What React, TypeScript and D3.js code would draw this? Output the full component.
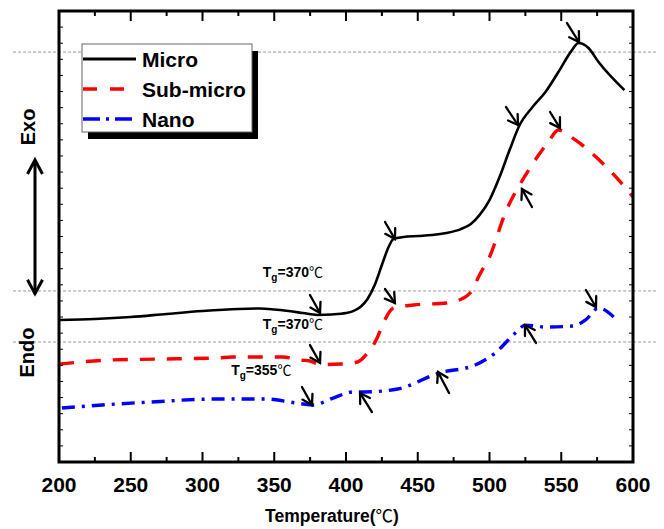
import React from "react";
import * as d3 from "d3";

// DSC curves (heat flow in arbitrary units)
const microT = [200, 225, 250, 275, 300, 325, 340, 350, 360, 370, 380, 390, 400, 405, 410, 415, 420, 425, 430, 433, 440, 450, 460, 470, 480, 487, 493, 500, 507, 514, 521, 530, 539, 548, 557, 562, 569, 576, 594];
const microV = [8.82, 8.88, 9.0, 9.19, 9.37, 9.5, 9.53, 9.47, 9.37, 9.25, 9.13, 9.16, 9.25, 9.37, 9.62, 10.12, 10.99, 12.23, 13.41, 13.84, 13.97, 14.03, 14.09, 14.22, 14.46, 14.78, 15.33, 16.26, 17.69, 19.37, 20.92, 22.04, 22.97, 24.21, 25.51, 26.01, 25.7, 24.83, 23.09];

const subT = [200, 235, 270, 310, 321, 356, 368, 375, 382, 396, 408, 415, 422, 424, 433, 447, 470, 479, 488, 493, 500, 511, 526, 541, 548, 558, 575, 596, 600];
const subV = [6.08, 6.33, 6.39, 6.46, 6.52, 6.52, 6.33, 6.27, 6.05, 6.08, 6.21, 6.77, 7.76, 8.19, 9.56, 9.75, 9.87, 10.06, 10.68, 11.61, 12.73, 15.46, 17.94, 19.87, 20.61, 20.11, 18.87, 16.89, 16.45];

const nanoT = [202, 230, 263, 310, 345, 361, 370, 377, 391, 405, 413, 436, 465, 490, 504, 518, 525, 539, 558, 567, 576, 588];
const nanoV = [3.35, 3.54, 3.72, 3.91, 3.91, 3.72, 3.6, 3.54, 3.97, 4.35, 4.35, 4.53, 5.53, 6.02, 6.77, 8.01, 8.5, 8.38, 8.44, 8.82, 9.56, 8.88];

const seriesNames = ["Micro", "Sub-micro", "Nano"];
const seriesColors = ["#000000", "#ff0000", "#0000ff"];
const seriesDash = ["none", "15 12", "13 7 3 7"];

const xTicks = d3.range(200, 601, 50);
const xMinorTicks = d3.range(225, 600, 50);
const yTicks = d3.range(1, 28);

// arrow annotations: [temperature, value] of tail and head
const arrowFrom = [[554, 27.25], [511.5, 22.04], [542.2, 21.73], [529.6, 15.83], [427.2, 14.9], [374.9, 10.37], [427.2, 10.74], [374.9, 7.26], [369.3, 4.66], [418.1, 3.1], [471.8, 4.28], [532.4, 7.39], [567.2, 10.68]];
const arrowTo = [[562.4, 26.07], [519.9, 20.92], [549.1, 20.73], [522.6, 16.95], [434.1, 13.84], [381.9, 9.25], [434.1, 9.87], [381.9, 6.15], [376.3, 3.54], [409.8, 4.28], [464.1, 5.59], [524.7, 8.5], [574.2, 9.62]];

const tgValues = ["370", "370", "355"];
const tgAt = [[342, 11.49], [342, 8.26], [320, 5.4]];

const guideLevels = [25.45, 10.62, 7.45];

const W = 664;
const H = 529;
const margin = { top: 11, right: 31, bottom: 67, left: 59 };
const font = "'Liberation Sans', Arial, sans-serif";
const cjk = "'Noto Sans CJK SC', 'DejaVu Sans', sans-serif";

function arrowHead(x1: number, y1: number, x2: number, y2: number, len: number, spread: number) {
  const a = Math.atan2(y2 - y1, x2 - x1);
  const p1 = [x2 - len * Math.cos(a - spread), y2 - len * Math.sin(a - spread)];
  const p2 = [x2 - len * Math.cos(a + spread), y2 - len * Math.sin(a + spread)];
  return `M${p1[0]},${p1[1]}L${x2},${y2}L${p2[0]},${p2[1]}`;
}

export default function App() {
  const x = d3.scaleLinear().domain([200, 600]).range([margin.left, W - margin.right]);
  const y = d3.scaleLinear().domain([0, 28]).range([H - margin.bottom, margin.top]);

  const line = d3
    .line<[number, number]>()
    .x((d) => x(d[0]))
    .y((d) => y(d[1]))
    .curve(d3.curveMonotoneX);

  const series = [
    d3.zip(microT, microV) as [number, number][],
    d3.zip(subT, subV) as [number, number][],
    d3.zip(nanoT, nanoV) as [number, number][],
  ];

  const [x0, x1] = x.range();
  const [yb, yt] = y.range();

  // legend box
  const lg = { x: 82, y: 44, w: 170, h: 88 };

  return (
    <svg width={W} height={H} style={{ position: "absolute", left: 0, top: 0, background: "#fff" }} fontFamily={font}>
      {/* dashed guide lines */}
      {guideLevels.map((g, i) => (
        <line key={i} x1={x(168)} x2={x(616)} y1={y(g)} y2={y(g)} stroke="#999" strokeWidth={1} strokeDasharray="3 2" />
      ))}

      {/* curves */}
      {series.map((s, i) => (
        <path
          key={i}
          d={line(s) || ""}
          fill="none"
          stroke={seriesColors[i]}
          strokeWidth={i === 0 ? 2.6 : 3.4}
          strokeDasharray={seriesDash[i]}
          strokeLinejoin="round"
        />
      ))}

      {/* arrows */}
      {arrowFrom.map((f, i) => {
        const ax1 = x(f[0]);
        const ay1 = y(f[1]);
        const ax2 = x(arrowTo[i][0]);
        const ay2 = y(arrowTo[i][1]);
        return (
          <g key={i} stroke="#000" strokeWidth={2.3} fill="none" strokeLinecap="round">
            <line x1={ax1} y1={ay1} x2={ax2} y2={ay2} />
            <path d={arrowHead(ax1, ay1, ax2, ay2, 11, 0.55)} />
          </g>
        );
      })}

      {/* Tg labels */}
      {tgValues.map((v, i) => (
        <text key={i} x={x(tgAt[i][0])} y={y(tgAt[i][1])} fontSize={14} fontWeight="bold" fill="#000">
          T
          <tspan fontSize={10} dy={4}>g</tspan>
          <tspan dy={-4}>={v}</tspan>
          <tspan fontFamily={cjk} fontWeight="normal" fontSize={14}>℃</tspan>
        </text>
      ))}

      {/* frame */}
      <rect x={x0} y={yt} width={x1 - x0} height={yb - yt} fill="none" stroke="#000" strokeWidth={3} />

      {/* x ticks, inward top and bottom */}
      {xTicks.map((t) => (
        <g key={t} stroke="#000" strokeWidth={2}>
          <line x1={x(t)} x2={x(t)} y1={yb} y2={yb - 10} />
          <line x1={x(t)} x2={x(t)} y1={yt} y2={yt + 10} />
        </g>
      ))}
      {xMinorTicks.map((t) => (
        <g key={t} stroke="#000" strokeWidth={2}>
          <line x1={x(t)} x2={x(t)} y1={yb} y2={yb - 5} />
          <line x1={x(t)} x2={x(t)} y1={yt} y2={yt + 5} />
        </g>
      ))}
      {yTicks.map((t) => (
        <g key={t} stroke="#000" strokeWidth={1}>
          <line x1={x0} x2={x0 + 4} y1={y(t)} y2={y(t)} />
          <line x1={x1} x2={x1 - 4} y1={y(t)} y2={y(t)} />
        </g>
      ))}
      {xTicks.map((t) => (
        <text key={t} x={x(t)} y={492} textAnchor="middle" fontSize={21} fontWeight="bold" fill="#000">
          {t}
        </text>
      ))}
      <text x={(x0 + x1) / 2 - 14} y={522} textAnchor="middle" fontSize={17.5} fontWeight="bold" fill="#000">
        Temperature(<tspan fontFamily={cjk} fontWeight="normal">℃</tspan>)
      </text>

      {/* Exo / Endo */}
      <text transform={`translate(35,${y(20.8)}) rotate(-90)`} textAnchor="middle" fontSize={20} fontWeight="bold" fill="#000">
        Exo
      </text>
      <text transform={`translate(34,${y(6.8)}) rotate(-90)`} textAnchor="middle" fontSize={20} fontWeight="bold" fill="#000">
        Endo
      </text>
      <g stroke="#000" strokeWidth={3} fill="none">
        <line x1={35} x2={35} y1={y(18.75)} y2={y(10.45)} />
        <path d={`M27.5,${y(18.75) + 14}L35,${y(18.75)}L42.5,${y(18.75) + 14}`} />
        <path d={`M27.5,${y(10.45) - 14}L35,${y(10.45)}L42.5,${y(10.45) - 14}`} />
      </g>

      {/* legend */}
      <rect x={lg.x + 6} y={lg.y + 7} width={lg.w} height={lg.h} fill="#000" />
      <rect x={lg.x} y={lg.y} width={lg.w} height={lg.h} fill="#fff" stroke="#666" strokeWidth={1} />
      {seriesNames.map((n, i) => (
        <g key={n}>
          <line
            x1={lg.x + 1}
            x2={lg.x + 54}
            y1={lg.y + 15 + i * 30}
            y2={lg.y + 15 + i * 30}
            stroke={seriesColors[i]}
            strokeWidth={i === 0 ? 3 : 3.4}
            strokeDasharray={i === 1 ? "14 13" : i === 2 ? "17 6 3 6" : "none"}
          />
          <text x={lg.x + 60} y={lg.y + 23 + i * 30} fontSize={21} fontWeight="bold" fill="#000">
            {n}
          </text>
        </g>
      ))}
    </svg>
  );
}
